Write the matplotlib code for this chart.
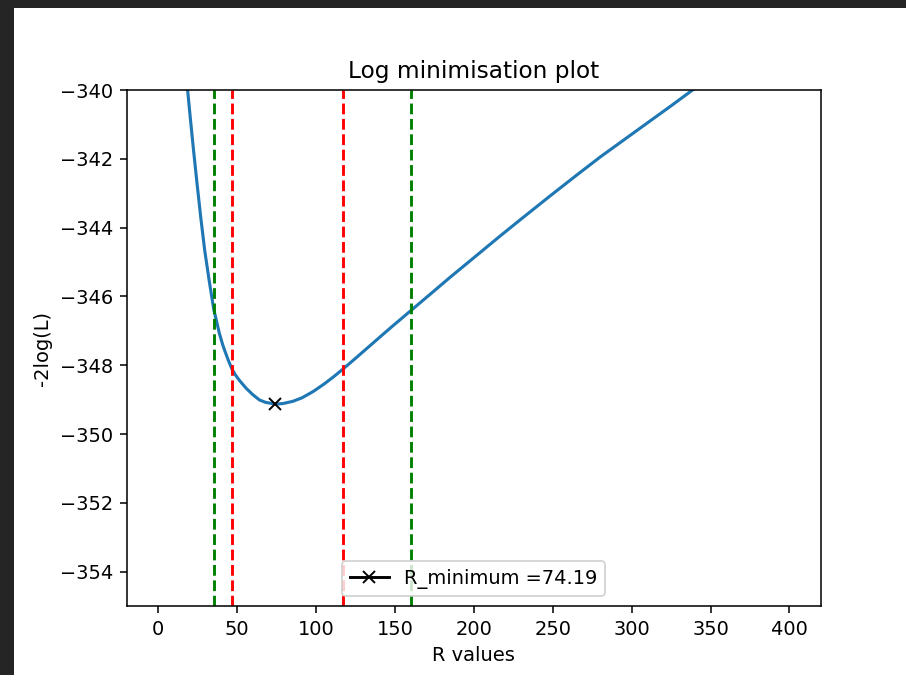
import matplotlib
matplotlib.use("Agg")
import matplotlib.pyplot as plt
from matplotlib.patches import Rectangle

# Data
R_values = [5, 10, 14, 16.5, 18.6, 20.3, 22.4, 24.6, 26.9, 29.4, 32.4, 35.1, 38.7,
            40.8, 42.0, 44.5, 46.7, 49.0, 51.4, 55.7, 60.0, 64.1, 68.0, 74.19,
            79.0, 85.3, 91.0, 98.0, 105.0, 111.0, 116.6, 125.0, 134.0, 141.0,
            148.8, 155.0, 160.4, 172.0, 184.8, 197.5, 216.5, 230.0, 248.3, 265.0,
            280.0, 296.0, 311.7, 325.0, 339.2, 355.0, 370.0, 385.0, 400.0]
neg2logL = [-330.0, -334.8, -337.5, -338.9, -340.0, -340.81, -341.77, -342.73,
            -343.69, -344.65, -345.58, -346.36, -347.07, -347.40, -347.56, -347.87,
            -348.11, -348.29, -348.44, -348.67, -348.86, -349.01, -349.08, -349.13,
            -349.115, -349.05, -348.95, -348.77, -348.55, -348.34, -348.13, -347.80,
            -347.44, -347.16, -346.85, -346.61, -346.40, -345.95, -345.45, -344.97,
            -344.25, -343.75, -343.08, -342.48, -341.95, -341.42, -340.90, -340.46,
            -339.98, -339.46, -338.96, -338.46, -337.96]

R_min = 74.19
L_min = -349.13
red_bounds = [46.7, 116.8]
green_bounds = [35.1, 160.3]

DPI = 139.3
fig = plt.figure(figsize=(907 / DPI, 675 / DPI), dpi=DPI, facecolor="#252525")
fig.patches.append(Rectangle((14 / 907, 0), 1 - 14 / 907, 667 / 675,
                             transform=fig.transFigure, facecolor="white",
                             edgecolor="none", zorder=-10))
ax = fig.add_axes([126.7 / 907, 69 / 675, (821 - 126.7) / 907, (606 - 90) / 675])
ax.set_zorder(5)

ax.plot(R_values, neg2logL, linewidth=1.6)
for b in red_bounds:
    ax.axvline(b, color="r", linestyle="--")
for b in green_bounds:
    ax.axvline(b, color="g", linestyle="--")
ax.plot(R_min, L_min, color="black", marker="x", linestyle="-",
        label="R_minimum =74.19")

ax.set_xlim(-20, 420)
ax.set_ylim(-355, -340)
ax.set_title("Log minimisation plot")
ax.set_xlabel("R values")
ax.set_ylabel("-2log(L)")
ax.legend(loc="lower center")

fig.savefig("out.png", dpi=DPI, facecolor=fig.get_facecolor())
